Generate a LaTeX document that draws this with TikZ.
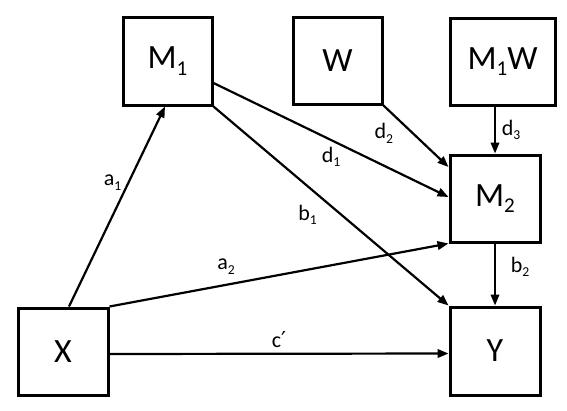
\documentclass[tikz,border=0pt]{standalone}
\usepackage{fontspec}
\setmainfont{Carlito}
\newfontfamily\symfont{DejaVu Sans}
\usetikzlibrary{arrows.meta}
\newcommand{\lsub}[1]{\raisebox{-0.2em}{\scalebox{0.62}{#1}}}
\begin{document}
\begin{tikzpicture}[x=1pt,y=-1pt,
  box/.style={draw, line width=3pt, rectangle, inner sep=0pt, font=\fontsize{34}{38}\selectfont},
  conn/.style={line width=2.2pt, -{Triangle[length=11pt,width=8.5pt]}},
  lbl/.style={font=\fontsize{22}{24}\selectfont, inner sep=0pt}]
\useasboundingbox (0,0) rectangle (567,410);
\node[box, minimum width=89pt, minimum height=88pt] (M1) at (167.5,61) {M\lsub{1}};
\node[box, minimum width=89pt, minimum height=87pt] (W) at (337.5,60.5) {W};
\node[box, minimum width=105pt, minimum height=87pt] (M1W) at (502.5,61.5) {M\lsub{1}W};
\node[box, minimum width=90pt, minimum height=87pt] (M2) at (495,198.5) {M\lsub{2}};
\node[box, minimum width=90pt, minimum height=87pt] (X) at (63,351.5) {X};
\node[box, minimum width=90pt, minimum height=88pt] (Y) at (495,351) {Y};
\draw[conn] ([xshift=6pt]X.north) -- ([xshift=-2.5pt]M1.south) node[lbl, pos=0.62, xshift=-16pt] {a\lsub{1}};
\draw[conn] ([yshift=-22pt]M1.east) -- ([yshift=1.5pt]M2.west) node[lbl, pos=0.5, yshift=-17pt] {d\lsub{1}};
\draw[conn] (W.south east) -- ([yshift=31.5pt]M2.west) node[lbl, pos=0.45, xshift=-29pt] {d\lsub{2}};
\draw[conn] (M2.north |- M1W.south) -- (M2.north) node[lbl, pos=0.5, xshift=16pt] {d\lsub{3}};
\draw[conn] (M1.south east) -- (Y.north west) node[lbl, pos=0.4, yshift=-28.5pt] {b\lsub{1}};
\draw[conn] (X.north east) -- (M2.south west) node[lbl, pos=0.344, yshift=18pt] {a\lsub{2}};
\draw[conn] ([yshift=-2.5pt]X.east) -- ([yshift=-2.5pt]Y.west) node[lbl, midway, yshift=14pt] {c{\symfont ′}};
\draw[conn] (M2.south) -- (Y.north) node[lbl, pos=0.38, xshift=25pt] {b\lsub{2}};
\end{tikzpicture}
\end{document}
